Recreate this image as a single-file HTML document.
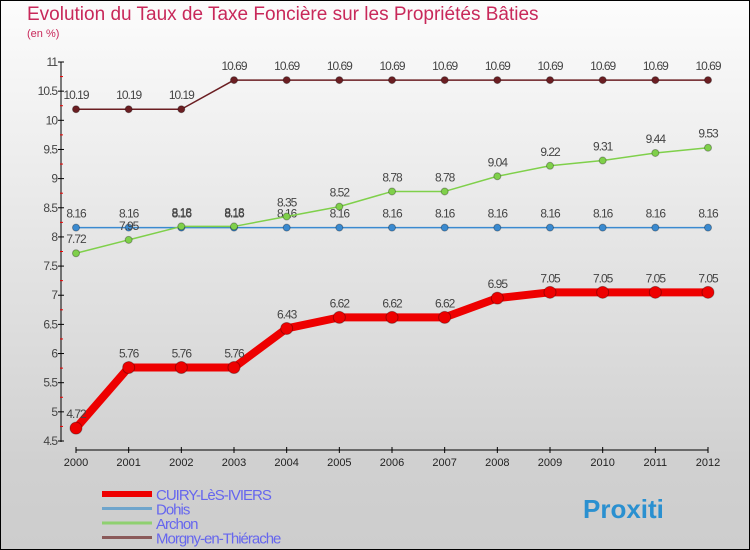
<!DOCTYPE html>
<html><head><meta charset="utf-8"><style>
body{margin:0}
#wrap{position:relative;width:748px;height:548px;border:1px solid #000;background:linear-gradient(#fcfcfc,#d0d0d0 85%,#cdcdcd);font-family:"Liberation Sans",sans-serif;overflow:hidden}
#title{position:absolute;left:26px;top:3px;font-size:19px;color:#c8285a;white-space:nowrap}
#sub{position:absolute;left:26px;top:27px;font-size:11px;color:#c8285a}
svg{position:absolute;left:0;top:0}
</style></head><body>
<div id="wrap">
<div id="title">Evolution du Taux de Taxe Foncière sur les Propriétés Bâties</div>
<div id="sub">(en %)</div>
<svg id="c" width="750" height="550"></svg>
</div>
<script>
const years=[2000,2001,2002,2003,2004,2005,2006,2007,2008,2009,2010,2011,2012];
const cuiry=[4.72,5.76,5.76,5.76,6.43,6.62,6.62,6.62,6.95,7.05,7.05,7.05,7.05];
const dohis=[8.16,8.16,8.16,8.16,8.16,8.16,8.16,8.16,8.16,8.16,8.16,8.16,8.16];
const archon=[7.72,7.95,8.18,8.18,8.35,8.52,8.78,8.78,9.04,9.22,9.31,9.44,9.53];
const morgny=[10.19,10.19,10.19,10.69,10.69,10.69,10.69,10.69,10.69,10.69,10.69,10.69,10.69];
const yTicks=[4.5,5,5.5,6,6.5,7,7.5,8,8.5,9,9.5,10,10.5,11];
const seriesNames=["CUIRY-LèS-IVIERS","Dohis","Archon","Morgny-en-Thiérache"];
const NS="http://www.w3.org/2000/svg",svg=document.getElementById('c');
const X=i=>75+i*(707-75)/(years.length-1);
const Y=v=>440-(v-4.5)*(379/6.5);
function el(t,a,txt){const e=document.createElementNS(NS,t);for(const k in a)e.setAttribute(k,a[k]);if(txt!=null)e.textContent=txt;svg.appendChild(e);return e;}
let e=el('line',{x1:60,y1:61,x2:60,y2:441,stroke:'#000'});

e=el('line',{x1:75,y1:449,x2:707,y2:449,stroke:'#000'});

yTicks.forEach(v=>{
 const y=Y(v);
 el('line',{x1:57,y1:y,x2:63,y2:y,stroke:'#000'});
 el('line',{x1:59,y1:Y(v+0.25),x2:62,y2:Y(v+0.25),stroke:v<11?'#e00':'none'});
 const t=el('text',{x:56,y:y+4,'text-anchor':'end','font-size':12,fill:'#444','letter-spacing':'-1'},String(v));
 
});
years.forEach((yr,i)=>{
 el('line',{x1:X(i),y1:446,x2:X(i),y2:452,stroke:'#000'});
 const t=el('text',{x:X(i),y:465,'text-anchor':'middle','font-size':11,fill:'#222'},String(yr));
 
});
function series(d,color,w,r,name){
 const p=el('polyline',{points:d.map((v,i)=>X(i)+','+Y(v)).join(' '),fill:'none',stroke:color,'stroke-width':w,'stroke-linejoin':'round'});
 
 d.forEach((v,i)=>{
  const c=el('circle',{cx:X(i),cy:Y(v),r:r,fill:color,stroke:'rgba(0,0,0,0.3)'});
  
  const t=el('text',{x:X(i),y:Y(v)-10,'text-anchor':'middle','font-size':12,fill:'#444','letter-spacing':'-1'},String(v));
  
 });
}
series(morgny,'#6b1e22',1.5,3.5,'morgny');
series(dohis,'#3a8ad0',1.5,3.5,'dohis');
series(archon,'#7fd04a',1.5,3.5,'archon');
series(cuiry,'#ee0000',8,6,'cuiry');
const lc=['#ee0000','#6fa5cc','#8fd070','#8a5a5a'],lw=[6,3,3,3];
seriesNames.forEach((n,i)=>{
 const y=493+i*14.5;
 const l=el('line',{x1:101,y1:y,x2:151,y2:y,stroke:lc[i],'stroke-width':lw[i]});
 
 const t=el('text',{x:155,y:y+6,'font-size':15,fill:'#6666ee','letter-spacing':'-1'},n);
 
});
const lg=el('text',{x:582,y:517,'font-size':26,'font-weight':'bold',fill:'#2a90d0'},'Proxiti');

</script>
</body></html>
